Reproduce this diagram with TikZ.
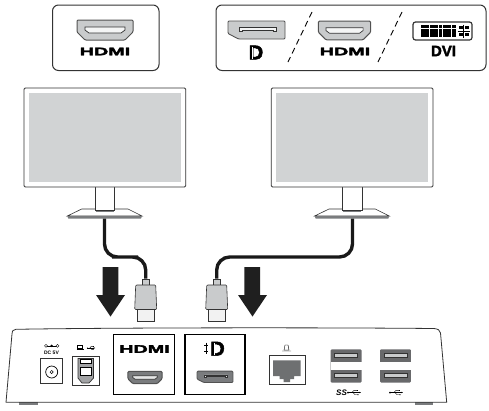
\documentclass[tikz,border=0pt]{standalone}
\usepackage{fontspec}
\setmainfont{Liberation Sans}
\newfontfamily\logofont{Liberation Sans}[BoldFeatures={FakeBold=2.5}]
\usepackage{xcolor}
\usetikzlibrary{arrows.meta,positioning,calc}
\definecolor{screengray}{HTML}{D1D3D4}
\definecolor{portlight}{HTML}{C9CBCC}
\definecolor{portdark}{HTML}{7A7C7E}
\definecolor{linegray}{HTML}{333333}
\begin{document}
\begin{tikzpicture}[
    x=1pt,y=-1pt,
    legend/.style={draw=linegray,line width=1pt,rounded corners=6pt,fill=white},
    hdmitext/.style={font=\logofont\fontsize{#1}{#1}\selectfont\bfseries,inner sep=0pt,xscale=1.8,transform shape},
    dptext/.style={font=\logofont\fontsize{#1}{#1}\selectfont\bfseries,inner sep=0pt},
    smalltext/.style={font=\fontsize{5}{5}\selectfont\bfseries,inner sep=0pt},
    slash/.style={draw=black,line width=0.9pt,dash pattern=on 6pt off 4pt},
    portbox/.style={draw=black,line width=1.4pt,fill=white,minimum width=61pt,minimum height=60pt,inner sep=0pt},
    thinbox/.style={draw=linegray,line width=0.7pt,fill=white,inner sep=0pt},
    collar/.style={draw=linegray,line width=0.6pt,fill=portlight,minimum width=7pt,minimum height=6pt,inner sep=0pt},
    stand/.style={inner sep=0pt,minimum width=2pt,minimum height=1pt},
    cable/.style={draw=black!90,line width=3.4pt,rounded corners=13pt},
    droparrow/.style={fill=black!88,draw=none},
    pics/monitor/.style={code={
      \draw[line width=0.6pt,draw=linegray,fill=white] (67.3,216) -- (81.7,209) -- (128,209) -- (142,216) -- cycle;
      \fill[portdark] (67.3,216) -- (142,216) -- (141,218.5) -- (68.3,218.5) -- cycle;
      \draw[line width=0.6pt,draw=linegray,fill=white] (95,187) -- (95,210) -- (114.5,210) -- (114.5,187);
      \draw[line width=1pt,draw=portdark] (95.5,211) -- (114,211);
      \draw[line width=0.8pt,draw=linegray,fill=white,rounded corners=1.2pt] (24,88) rectangle (185.7,187);
      \fill[screengray] (29,93.3) rectangle (181,182);
    }},
    pics/plug/.style={code={
      \draw[line width=0.6pt,draw=linegray,fill=white!95!black] (-8.5,309.5) rectangle (8.5,321.5);
      \draw[line width=0.6pt,draw=linegray,fill=portlight,rounded corners=1pt] (-10,285) -- (10,285) -- (11,309.5) -- (-11,309.5) -- cycle;
    }},
    pics/hdmiport/.style={code={
      \draw[line width=1pt,draw=linegray!85,fill=#1,rounded corners=1pt] (-28,-10) -- (28,-10) -- (28,2) -- (20,10) -- (-20,10) -- (-28,2) -- cycle;
      \draw[line width=0.7pt,draw=linegray,fill=white!80!#1] (-20,-3) -- (20,-3) -- (20,0) -- (16,3) -- (-16,3) -- (-20,0) -- cycle;
    }},
    pics/dpport/.style={code={
      \draw[line width=0.9pt,draw=linegray!85,fill=#1,rounded corners=1pt] (-28.5,-9) -- (28.5,-9) -- (28.5,9) -- (-18,9) -- (-28.5,3.5) -- cycle;
      \draw[line width=0.7pt,draw=linegray,fill=white!80!#1] (-17,1.5) -- (-17,-3) -- (20,-3) -- (20,1.5) -- (17,1.5) -- (17,0) -- (-14,0) -- (-14,1.5) -- cycle;
    }},
    pics/usbmark/.style={code={
      \draw[line width=0.5pt,-{Latex[length=1.6pt,width=1.6pt]}] (-6,0) -- (7,0);
      \fill (-6,0) circle (1pt);
      \draw[line width=0.4pt] (-2,0) -- (0,-2.2) -- (3,-2.2);
      \draw[line width=0.4pt] (-1,0) -- (1,2.2) -- (4,2.2);
      \fill (4,2.2) circle (0.7pt);
      \fill (3,-2.9) rectangle (4.3,-1.6);
    }},
    pics/usbstack/.style={code={
      \fill[portdark!85!black,rounded corners=1pt] (-15.4,-16.6) rectangle (15.4,16.6);
      \fill[white] (-15.4,-4.3) rectangle (15.4,3.6);
      \foreach \rowy in {-10.6,10.2} {
        \draw[line width=0.5pt,draw=linegray,fill=portlight] (-11.5,\rowy-2.5) rectangle (11.5,\rowy+1.5);
      }
    }}
  ]
    \useasboundingbox (0,0) rectangle (489,410);
    % legends
    \node[legend,minimum width=106.5pt,minimum height=65.5pt] (legendl) at (105.75,37.75) {};
    \node[legend,minimum width=270pt,minimum height=65.5pt] (legendr) at (351,37.75) {};
    \pic at (105,30) {hdmiport=portlight};
    \node[hdmitext=11] (hdmil) at (105,51.5) {HDMI};
    \pic at (256.5,30) {dpport=portlight};
    \node[dptext=20] (dpl) at (256,52.5) {D};
    \fill[white] (252,47) rectangle (252.8,59);
    \pic[scale=0.93] at (344.5,30.5) {hdmiport=portlight};
    \node[hdmitext=11] (hdmir) at (345,51.5) {HDMI};
    \node[thinbox,fill=white,draw=linegray,line width=1.2pt,rounded corners=2.5pt,minimum width=59pt,minimum height=18pt] (dvi) at (442.5,31) {};
    \foreach \col in {0,...,7} \foreach \row in {0,1,2}
      \fill ({421+\col*4.4},{24.5+\row*4.4}) rectangle ++(3.8,3.8);
    \foreach \col in {0,1} \foreach \row in {0,1}
      \fill ({459+\col*6},{25.5+\row*7}) rectangle ++(3.5,3.5);
    \draw[line width=0.9pt] (463.8,24.5) -- (463.8,38) (457.5,31) -- (469.5,31);
    \node[dptext=15] (dvitext) at (443.5,51) {DVI};
    \draw[slash] (312,12) -- (288,62);
    \draw[slash] (402,12) -- (378,62);
    % monitors
    \pic at (0,0) {monitor};
    \pic at (247.3,0) {monitor};
    % plugs and cables
    \node[stand] (basel) at (104.5,218) {};
    \node[stand] (baser) at (352.5,218) {};
    \node[collar] (collarl) at (145.7,282) {};
    \node[collar] (collarr) at (216.7,282) {};
    \coordinate (cablel) at (125,257);
    \coordinate (cabler) at (285,257);
    \draw[cable] (basel.south) |- (cablel) -| (collarl.north);
    \draw[cable] (baser.south) |- (cabler) -| (collarr.north);
    \pic at (145.7,0) {plug};
    \pic at (216.7,0) {plug};
    \fill[droparrow] (102.7,267) -- (118.3,267) -- (118.3,295) -- (125,295) -- (110.5,316.5) -- (96,295) -- (102.7,295) -- cycle;
    \fill[droparrow] (244.3,267) -- (260,267) -- (260,295) -- (267,295) -- (252.5,316.5) -- (238,295) -- (244.3,295) -- cycle;
    % dock
    \fill[portdark] (19,402) rectangle (38,404.8);
    \fill[portdark] (415,402) rectangle (433,404.8);
    \draw[line width=0.8pt,draw=linegray] (6,402.3) -- (12,334) .. controls (12.4,330.5) and (13,329.8) .. (16,329.3)
      .. controls (120,327.5) and (330,327.5) .. (434,328.5) .. controls (438,329) and (440,330) .. (440.5,333) -- (446.7,402.3) -- cycle;
    % power and usb-b
    \node[smalltext] (dclabel) at (51.5,352.3) {DC 5V};
    \draw[line width=0.4pt] (45.5,345.8) -- (58,345.8);
    \draw[line width=0.4pt,fill=white] (46,345.8) circle (1.5pt) (57.5,345.8) circle (1.5pt);
    \fill (51.7,345.8) circle (1.3pt);
    \node[thinbox,minimum width=22pt,minimum height=25pt] (dcjack) at (51.7,370.5) {};
    \draw[line width=0.7pt] (51.7,372) circle (6pt);
    \draw[line width=0.5pt] (51.7,372) circle (1.6pt);
    \node[thinbox,minimum width=27.5pt,minimum height=29.5pt] (usbb) at (85.7,370.7) {};
    \draw[line width=0.7pt,draw=linegray,fill=portdark!70!white] (78,358.5) -- (93.5,358.5) -- (93.5,378) -- (89,383) -- (82,383) -- (78,378) -- cycle;
    \draw[line width=0.5pt,fill=white] (80,359.5) rectangle (91.5,363);
    \draw[line width=0.5pt,fill=white] (80.5,367) rectangle (91,375);
    \draw[line width=0.5pt] (77.5,345) rectangle (82.5,348.5) (76.5,349.5) -- (83.5,349.5);
    \pic[scale=0.6] at (91,348) {usbmark};
    % video ports
    \node[portbox] (hdmibox) at (144.2,364.6) {};
    \node[hdmitext=11] (hdmidock) at (144.5,349) {HDMI};
    \pic[scale=0.61] at (145,377.5) {hdmiport=portdark};
    \node[portbox,minimum width=60pt] (dpbox) at (215,364.6) {};
    \node[dptext=20] (dpdock) at (217.5,348.7) {D};
    \fill[white] (213.5,343) rectangle (214.3,355);
    \draw[line width=0.6pt] (206,342.5) -- (206,354) (204,345.5) -- (208,345.5) (204,351) -- (208,351);
    \pic[scale=0.63] at (215,376.8) {dpport=portdark};
    % network
    \node[thinbox,minimum width=36pt,minimum height=29.5pt] (rjbox) at (287,369.7) {};
    \fill[portdark!90!black] (273,360.3) -- (300.5,360.3) -- (300.5,376) -- (294,376) -- (294,379) -- (290,379) -- (290,382) -- (283.5,382) -- (283.5,379) -- (279.5,379) -- (279.5,376) -- (273,376) -- cycle;
    \draw[line width=0.4pt] (285,345) -- (288,345) -- (289,350) -- (284,350) -- cycle (282,351) -- (291,351);
    % usb
    \pic at (346.1,365.9) {usbstack};
    \pic at (395.5,365.9) {usbstack};
    \node[font=\fontsize{8}{8}\selectfont\bfseries\itshape,inner sep=0pt] (sslabel) at (341.5,392.5) {SS};
    \pic at (354,392.5) {usbmark};
    \pic at (396,392.5) {usbmark};
\end{tikzpicture}
\end{document}
